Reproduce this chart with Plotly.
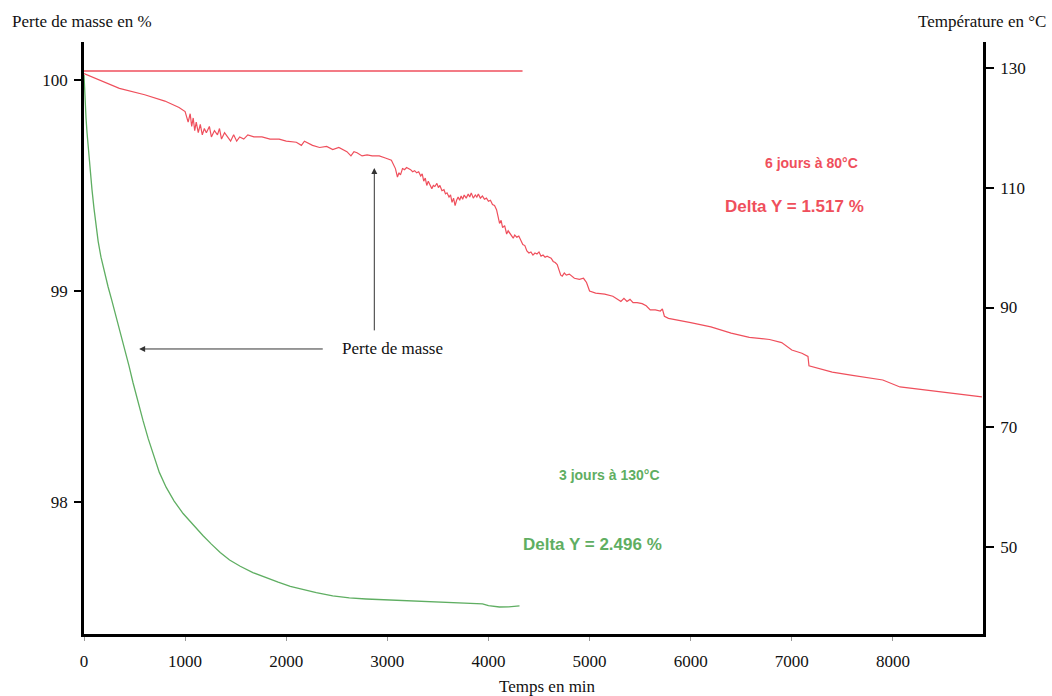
import plotly.graph_objects as go

# --- data (time in min, mass in %) ---
green_t = [0, 5, 10, 20, 30, 40, 50, 65, 79, 99, 119, 140, 168, 200, 238, 275, 317, 360,
           406, 445, 485, 535, 584, 635, 683, 745, 812, 890, 980, 1080, 1178, 1260, 1347,
           1440, 1545, 1670, 1802, 1920, 2040, 2170, 2297, 2460, 2624, 2790, 2950, 3200,
           3446, 3700, 3941, 4000, 4109, 4200, 4307]
green_m = [100.024, 99.96, 99.90, 99.82, 99.75, 99.69, 99.63, 99.55, 99.48, 99.39,
           99.31, 99.235, 99.16, 99.09, 99.02, 98.955, 98.88, 98.805, 98.72, 98.645,
           98.565, 98.47, 98.385, 98.30, 98.225, 98.14, 98.07, 98.005, 97.945, 97.89,
           97.84, 97.80, 97.76, 97.725, 97.695, 97.665, 97.64, 97.62, 97.60, 97.585,
           97.57, 97.555, 97.545, 97.54, 97.537, 97.532, 97.527, 97.522, 97.517, 97.508,
           97.502, 97.503, 97.507]

red_t = [0, 150, 350, 600, 800, 940, 1000, 1030, 1050, 1065, 1080, 1095, 1110, 1130,
         1150, 1170, 1190, 1210, 1240, 1260, 1290, 1320, 1340, 1360, 1390, 1420, 1450,
         1480, 1510, 1540, 1580, 1620, 1680, 1760, 1840, 1930, 2000, 2100, 2150, 2180,
         2260, 2330, 2400, 2460, 2520, 2600, 2640, 2670, 2700, 2750, 2800, 2850, 2920,
         2980, 3040, 3080,
         3100, 3115, 3130, 3150, 3170, 3190, 3210, 3230, 3250, 3270, 3290, 3310, 3330,
         3345, 3360, 3375, 3390, 3405, 3420, 3440, 3455, 3470, 3490, 3505, 3520, 3540,
         3560, 3575, 3590, 3610, 3625, 3640, 3655, 3670, 3685, 3700, 3715, 3730, 3745,
         3760, 3780, 3800, 3815, 3830, 3850, 3870, 3885, 3900, 3920, 3940, 3960, 3980,
         4000, 4020, 4040, 4060, 4080, 4095, 4110, 4125, 4140, 4160, 4180, 4195, 4210,
         4230, 4245, 4260, 4280, 4300, 4320, 4340, 4360, 4380, 4400, 4420, 4440, 4460,
         4480, 4500, 4520, 4540, 4560, 4580, 4600, 4620, 4640, 4660, 4680, 4700, 4715,
         4730, 4750, 4770, 4800, 4850, 4900, 4940,
         4970, 5000, 5060, 5150, 5230, 5280, 5310, 5340, 5370, 5400, 5430, 5470, 5520,
         5560, 5600, 5650, 5700, 5720, 5740, 5780, 5900, 6000, 6200, 6400, 6580, 6780,
         6900, 7000, 7100, 7160, 7170, 7250, 7400, 7600, 7750, 7900, 8070, 8240, 8400,
         8560, 8880]
red_m = [100.03, 100.00, 99.96, 99.93, 99.90, 99.87, 99.85, 99.80, 99.84, 99.78, 99.82,
         99.76, 99.80, 99.75, 99.79, 99.74, 99.77, 99.75, 99.78, 99.73, 99.76, 99.74,
         99.77, 99.72, 99.75, 99.73, 99.71, 99.74, 99.71, 99.73, 99.72, 99.74, 99.73,
         99.73, 99.72, 99.72, 99.71, 99.705, 99.69, 99.71, 99.69, 99.68, 99.685, 99.67,
         99.68, 99.66, 99.64, 99.66, 99.655, 99.64, 99.645, 99.64, 99.64, 99.63, 99.62,
         99.58,
         99.54, 99.56, 99.55, 99.58, 99.575, 99.585, 99.58, 99.575, 99.565, 99.57, 99.56,
         99.565, 99.545, 99.555, 99.52, 99.535, 99.50, 99.52, 99.505, 99.485, 99.50,
         99.495, 99.51, 99.49, 99.50, 99.475, 99.48, 99.46, 99.465, 99.445, 99.455, 99.42,
         99.44, 99.405, 99.43, 99.445, 99.43, 99.45, 99.435, 99.455, 99.44, 99.46, 99.445,
         99.465, 99.44, 99.455, 99.445, 99.46, 99.44, 99.45, 99.435, 99.44, 99.425, 99.43,
         99.41, 99.405, 99.385, 99.35, 99.32, 99.335, 99.30, 99.31, 99.27, 99.285, 99.275,
         99.26, 99.25, 99.265, 99.255, 99.26, 99.24, 99.22, 99.215, 99.19, 99.18, 99.185,
         99.17, 99.18, 99.175, 99.185, 99.165, 99.17, 99.16, 99.165, 99.16, 99.155, 99.14,
         99.135, 99.125, 99.095, 99.075, 99.07, 99.085, 99.075, 99.08, 99.06, 99.055,
         99.06,
         99.04, 99.00, 98.99, 98.985, 98.975,
         98.96, 98.95, 98.965, 98.95, 98.96, 98.945, 98.945, 98.94, 98.93, 98.91, 98.91,
         98.905, 98.915, 98.88, 98.87, 98.86, 98.85, 98.83, 98.80, 98.78, 98.77, 98.755,
         98.72, 98.705, 98.69, 98.645, 98.635, 98.615, 98.60, 98.59, 98.578, 98.545,
         98.535, 98.525, 98.517, 98.498]

temp_t = [0, 4337]
temp_c = [129.5, 129.5]

x_ticks = [0, 1000, 2000, 3000, 4000, 5000, 6000, 7000, 8000]
y_ticks = [98, 99, 100]
y2_ticks = [50, 70, 90, 110, 130]

RED = "#ef4f5c"
GREEN = "#5fae62"
SERIF = "Liberation Serif"
SANS = "Liberation Sans"

fig = go.Figure()
fig.add_trace(go.Scatter(x=temp_t, y=temp_c, mode="lines", yaxis="y2",
                         line=dict(color=RED, width=1.3), showlegend=False))
fig.add_trace(go.Scatter(x=red_t, y=red_m, mode="lines",
                         line=dict(color=RED, width=1.2), showlegend=False))
fig.add_trace(go.Scatter(x=green_t, y=green_m, mode="lines",
                         line=dict(color=GREEN, width=1.3), showlegend=False))

fig.update_layout(
    width=1052, height=696,
    margin=dict(l=84, r=69, t=42, b=62),
    paper_bgcolor="white", plot_bgcolor="white",
    font=dict(family=SERIF, size=17, color="#111"),
    xaxis=dict(range=[0, 8891], tickvals=x_ticks, showgrid=False, zeroline=False,
               showline=True, linecolor="black", linewidth=2.5,
               ticks="outside", ticklen=4, tickwidth=1, tickcolor="#999",
               ticklabelstandoff=6, tickfont=dict(family=SERIF, size=17)),
    yaxis=dict(range=[97.374, 100.18], tickvals=y_ticks, showgrid=False, zeroline=False,
               showline=True, linecolor="black", linewidth=2.5,
               ticks="outside", ticklen=7, tickwidth=2, tickcolor="black",
               ticklabelstandoff=3, tickfont=dict(family=SERIF, size=17)),
    yaxis2=dict(range=[35.48, 134.34], tickvals=y2_ticks, overlaying="y", side="right",
                showgrid=False, zeroline=False,
                showline=True, linecolor="black", linewidth=2.5,
                ticks="outside", ticklen=8, tickwidth=2, tickcolor="black",
                ticklabelstandoff=3, tickfont=dict(family=SERIF, size=17)),
)

annotations = [
    dict(text="Perte de masse en %", xref="paper", yref="paper", x=-0.0823, y=1.0338,
         xanchor="left", yanchor="middle", showarrow=False, font=dict(family=SERIF, size=17)),
    dict(text="Température en °C", xref="paper", yref="paper", x=1.0723, y=1.0338,
         xanchor="right", yanchor="middle", showarrow=False, font=dict(family=SERIF, size=17)),
    dict(text="Temps en min", xref="paper", yref="paper", x=0.516, y=-0.0895,
         xanchor="center", yanchor="middle", showarrow=False, font=dict(family=SERIF, size=17)),
    dict(text="Perte de masse", xref="x", yref="y", x=3050, y=98.725,
         xanchor="center", yanchor="middle", showarrow=False, font=dict(family=SERIF, size=17)),
    # arrows
    dict(text="", xref="x", yref="y", x=545, y=98.725, axref="x", ayref="y",
         ax=2376, ay=98.725, showarrow=True, arrowhead=2, arrowsize=1.2, arrowwidth=1,
         arrowcolor="#333"),
    dict(text="", xref="x", yref="y", x=2871, y=99.583, axref="x", ayref="y",
         ax=2871, ay=98.806, showarrow=True, arrowhead=2, arrowsize=1.2, arrowwidth=1,
         arrowcolor="#333"),
    dict(text="<b>6 jours à 80°C</b>", xref="x", yref="y", x=7198, y=99.607,
         xanchor="center", yanchor="middle", showarrow=False,
         font=dict(family=SANS, size=14, color=RED)),
    dict(text="<b>Delta Y = 1.517 %</b>", xref="x", yref="y", x=7030, y=99.398,
         xanchor="center", yanchor="middle", showarrow=False,
         font=dict(family=SANS, size=17, color=RED)),
    dict(text="<b>3 jours à 130°C</b>", xref="x", yref="y", x=5198, y=98.128,
         xanchor="center", yanchor="middle", showarrow=False,
         font=dict(family=SANS, size=14, color=GREEN)),
    dict(text="<b>Delta Y = 2.496 %</b>", xref="x", yref="y", x=5030, y=97.796,
         xanchor="center", yanchor="middle", showarrow=False,
         font=dict(family=SANS, size=17, color=GREEN)),
]
fig.update_layout(annotations=annotations)

fig.write_html("out.html", config={"displayModeBar": False},
               post_script="document.body.style.margin='0';document.body.style.padding='0';")
